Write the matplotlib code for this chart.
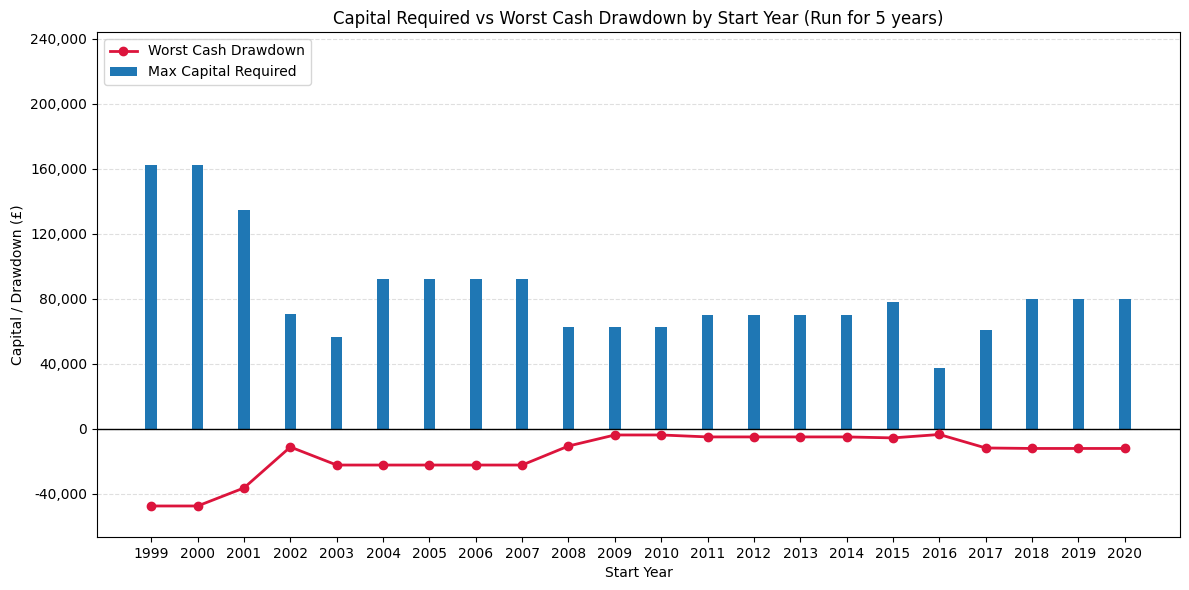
import matplotlib.pyplot as plt
from matplotlib.ticker import FuncFormatter
import numpy as np

# Start years and results
start_years = [str(y) for y in range(1999, 2021)]
max_capital = [162500, 162500, 135000, 71000, 56600, 92300, 92300, 92300, 92300,
               63000, 63000, 63000, 70000, 70000, 70000, 70000, 78000, 37500,
               61000, 80000, 80000, 80000]
worst_drawdown = [-47400, -47400, -36300, -11100, -22200, -22200, -22200, -22200,
                  -22200, -10500, -3700, -3700, -4900, -4900, -4900, -4900, -5500,
                  -3400, -11700, -12000, -12000, -12000]
y_ticks = [-40000, 0, 40000, 80000, 120000, 160000, 200000, 240000]


def main():
    x = np.arange(len(start_years))
    fig, ax = plt.subplots(figsize=(11.89, 5.9), dpi=100)

    ax.bar(x, max_capital, width=0.25, color='#1f77b4', label='Max Capital Required', zorder=2)
    ax.plot(x, worst_drawdown, color='crimson', marker='o', linewidth=2,
            label='Worst Cash Drawdown', zorder=3)
    ax.axhline(0, color='black', linewidth=1, zorder=2)

    ax.set_xticks(x)
    ax.set_xticklabels(start_years)
    ax.set_xlim(-1.17, len(start_years) - 1 + 1.19)
    ax.set_yticks(y_ticks)
    ax.set_ylim(-66500, 244300)
    ax.yaxis.set_major_formatter(FuncFormatter(lambda v, p: f'{int(v):,}'))
    ax.grid(axis='y', linestyle='--', alpha=0.4, zorder=0)

    ax.set_xlabel('Start Year')
    ax.set_ylabel('Capital / Drawdown (£)')
    ax.set_title('Capital Required vs Worst Cash Drawdown by Start Year (Run for 5 years)')
    ax.legend(loc='upper left')

    # axes placement matched to the reference
    fig.subplots_adjust(left=0.0816, right=0.9924, top=0.9458, bottom=0.0898)
    plt.savefig('out.png')


if __name__ == "__main__":
    main()
